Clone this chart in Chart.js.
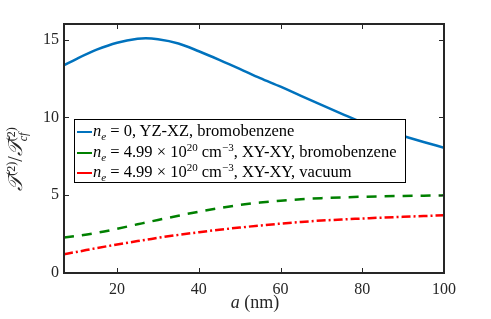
<!DOCTYPE html>
<html>
<head>
<meta charset="utf-8">
<script src="https://cdn.jsdelivr.net/npm/chart.js@4.4.1/dist/chart.umd.min.js"></script>
<style>
  html, body { margin: 0; padding: 0; background: #fff; }
  #wrap { position: relative; width: 491px; height: 319px; font-family: "Liberation Serif", "DejaVu Serif", serif; color: #262626; }
  #chart { position: absolute; left: 0; top: 0; }
  .legend {
    position: absolute; left: 74px; top: 119px; width: 332px; height: 64px;
    border: 1px solid #000; background: #fff; box-sizing: border-box;
    font-size: 16.5px; line-height: 21px; color: #000;
  }
  .row { position: relative; height: 20.5px; white-space: nowrap; }
  .row .swatch { position: absolute; left: 2px; top: 11px; width: 15px; height: 0; border-top: 2.5px solid; }
  .row .txt { position: absolute; left: 18px; top: 0; }
  sup, sub { font-size: 11px; line-height: 0; }
  .ytitle {
    position: absolute; left: 17px; top: 159px; transform: translate(-50%, -50%) rotate(-90deg);
    font-size: 20px; white-space: nowrap; color: #262626;
  }
  .ytitle sup { font-size: 12px; }
  .stack { display: inline-flex; flex-direction: column; vertical-align: middle; font-size: 12px; line-height: 12px; }
  .xtitle { position: absolute; left: 255px; top: 292px; transform: translateX(-50%); font-size: 18px; white-space: nowrap; }
</style>
</head>
<body>
<div id="wrap">
  <canvas id="chart" width="491" height="319"></canvas>
  <div class="ytitle"><i>&#x1D4AF;</i><sup>(2)</sup>/<i>&#x1D4AF;</i><span class="stack"><span>(2)</span><span><i>cf</i></span></span></div>
  <div class="xtitle"><i>a</i> (nm)</div>
  <div class="legend" id="legend"></div>
</div>
<script>
/* global Chart */

const aValues = [7, 10, 15, 20, 25, 27, 30, 35, 40, 45, 50, 55, 60, 65, 70, 75, 80, 85, 90, 95, 100];
const blueSeries = [13.35, 13.75, 14.35, 14.8, 15.05, 15.08, 15.02, 14.75, 14.25, 13.7, 13.12, 12.52, 11.97, 11.38, 10.8, 10.23, 9.67, 9.17, 8.8, 8.42, 8.05];
const greenSeries = [2.28, 2.38, 2.58, 2.84, 3.13, 3.24, 3.41, 3.68, 3.94, 4.17, 4.37, 4.53, 4.65, 4.74, 4.81, 4.86, 4.9, 4.93, 4.95, 4.97, 4.99];
const redSeries = [1.21, 1.35, 1.6, 1.83, 2.05, 2.13, 2.26, 2.45, 2.62, 2.78, 2.92, 3.05, 3.17, 3.28, 3.37, 3.44, 3.5, 3.56, 3.61, 3.66, 3.71];
const xTicks = [20, 40, 60, 80, 100];
const yTicks = [0, 5, 10, 15];
const legendLabels = [
  '<i>n</i><sub><i>e</i></sub> = 0, YZ-XZ, bromobenzene',
  '<i>n</i><sub><i>e</i></sub> = 4.99 × 10<sup>20</sup> cm<sup>−3</sup>, XY-XY, bromobenzene',
  '<i>n</i><sub><i>e</i></sub> = 4.99 × 10<sup>20</sup> cm<sup>−3</sup>, XY-XY, vacuum',
];
const colors = ["#0072BD", "#008000", "#FF0000"];
const dashes = [[], [10, 8], [9, 3, 2, 3]];

const toPoints = (ys) => ys.map((y, i) => ({ x: aValues[i], y }));

// inward ticks on all four sides plus the box
const boxTicks = {
  id: "boxTicks",
  afterDraw(chart) {
    const { ctx, chartArea: ca } = chart;
    const xs = chart.scales.x, ys = chart.scales.y;
    const len = 5;
    ctx.save();
    ctx.strokeStyle = "#262626";
    ctx.lineWidth = 1;
    ctx.beginPath();
    xTicks.forEach((v) => {
      const px = Math.round(xs.getPixelForValue(v)) + 0.5;
      ctx.moveTo(px, ca.bottom); ctx.lineTo(px, ca.bottom - len);
      ctx.moveTo(px, ca.top); ctx.lineTo(px, ca.top + len);
    });
    yTicks.forEach((v) => {
      const py = Math.round(ys.getPixelForValue(v)) + 0.5;
      ctx.moveTo(ca.left, py); ctx.lineTo(ca.left + len, py);
      ctx.moveTo(ca.right, py); ctx.lineTo(ca.right - len, py);
    });
    ctx.stroke();
    ctx.lineWidth = 2;
    ctx.strokeRect(ca.left, ca.top, ca.right - ca.left, ca.bottom - ca.top);
    ctx.restore();
  },
};

const chart = new Chart(document.getElementById("chart"), {
  type: "line",
  data: {
    datasets: [blueSeries, greenSeries, redSeries].map((s, i) => ({
      data: toPoints(s),
      borderColor: colors[i],
      borderWidth: 2.5,
      borderDash: dashes[i],
      pointRadius: 0,
      cubicInterpolationMode: "monotone",
      fill: false,
    })),
  },
  options: {
    responsive: false,
    animation: false,
    layout: { padding: { left: 0, right: 47, top: 24, bottom: 0 } },
    plugins: { legend: { display: false }, tooltip: { enabled: false } },
    scales: {
      x: {
        type: "linear",
        min: 7,
        max: 100,
        afterBuildTicks: (scale) => { scale.ticks = xTicks.map((v) => ({ value: v })); },
        afterFit: (scale) => { scale.height = 46; },
        grid: { display: false, drawTicks: false },
        border: { display: false },
        ticks: { color: "#262626", padding: 7, font: { family: "Liberation Serif", size: 16 } },
      },
      y: {
        min: 0,
        max: 16,
        afterBuildTicks: (scale) => { scale.ticks = yTicks.map((v) => ({ value: v })); },
        afterFit: (scale) => { scale.width = 64; },
        grid: { display: false, drawTicks: false },
        border: { display: false },
        ticks: { color: "#262626", padding: 5, font: { family: "Liberation Serif", size: 16 } },
      },
    },
  },
  plugins: [boxTicks],
});

const legendEl = document.getElementById("legend");
legendLabels.forEach((html, i) => {
  const row = document.createElement("div");
  row.className = "row";
  const sw = document.createElement("span");
  sw.className = "swatch";
  sw.style.borderTopColor = colors[i];
  const txt = document.createElement("span");
  txt.className = "txt";
  txt.innerHTML = html;
  row.appendChild(sw);
  row.appendChild(txt);
  legendEl.appendChild(row);
});
</script>
</body>
</html>
